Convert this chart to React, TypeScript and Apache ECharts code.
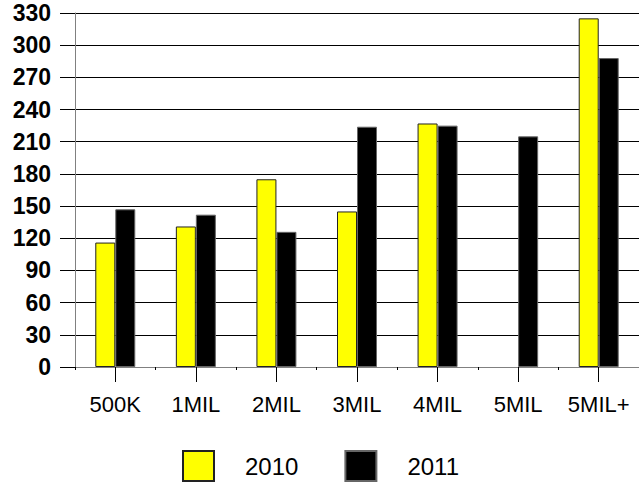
import React, { useEffect, useRef } from "react";
import * as echarts from "echarts";

const categories = ["500K", "1MIL", "2MIL", "3MIL", "4MIL", "5MIL", "5MIL+"];
const values2010 = [116, 131, 175, 145, 227, null, 325];
const values2011 = [147, 142, 126, 224, 225, 215, 288];
const seriesNames = ["2010", "2011"];

export default function App() {
  const ref = useRef<HTMLDivElement>(null);
  useEffect(() => {
    if (!ref.current) return;
    const chart = echarts.init(ref.current, null, { renderer: "svg" });
    chart.setOption({
      animation: false,
      backgroundColor: "#ffffff",
      grid: { left: 75, right: -5, top: 13, bottom: 115, containLabel: false },
      legend: {
        data: seriesNames,
        left: 177,
        top: 445,
        itemWidth: 31,
        itemHeight: 30,
        itemGap: 46,
        icon: "rect",
        textStyle: {
          fontFamily: "Liberation Sans, Arial, sans-serif",
          fontSize: 24,
          color: "#000",
          padding: [0, 0, 0, 26],
        },
      },
      xAxis: [
        {
          type: "category",
          data: categories,
          axisLine: { show: true, lineStyle: { color: "#808080", width: 1 } },
          axisTick: { show: true, alignWithLabel: true, length: 15, lineStyle: { color: "#000" } },
          axisLabel: {
            margin: 26,
            fontFamily: "Liberation Sans, Arial, sans-serif",
            fontSize: 22,
            color: "#000",
            interval: 0,
          },
          splitLine: { show: false },
        },
        {
          type: "category",
          data: categories,
          position: "bottom",
          axisLine: { show: false },
          axisTick: { show: true, alignWithLabel: false, length: 3, lineStyle: { color: "#000" } },
          axisLabel: { show: false },
          splitLine: { show: false },
        },
      ],
      yAxis: {
        type: "value",
        min: 0,
        max: 330,
        interval: 30,
        axisLine: { show: true, lineStyle: { color: "#808080", width: 1 } },
        axisTick: { show: true, length: 15, lineStyle: { color: "#000" } },
        axisLabel: {
          margin: 24,
          fontFamily: "Liberation Sans, Arial, sans-serif",
          fontSize: 23,
          fontWeight: "bold",
          color: "#000",
        },
        splitLine: { show: true, lineStyle: { color: "#000", width: 1 } },
      },
      series: [
        {
          name: seriesNames[0],
          type: "bar",
          xAxisIndex: 0,
          data: values2010,
          barWidth: 20,
          barGap: "0%",
          itemStyle: { color: "#ffff00", borderColor: "#222222", borderWidth: 1 },
        },
        {
          name: seriesNames[1],
          type: "bar",
          xAxisIndex: 0,
          data: values2011,
          barWidth: 20,
          barGap: "0%",
          itemStyle: { color: "#000000", borderColor: "#666666", borderWidth: 1 },
        },
      ],
    });
    return () => chart.dispose();
  }, []);
  return (
    <div
      ref={ref}
      style={{ position: "fixed", left: 0, top: 0, width: 639, height: 482 }}
    />
  );
}
